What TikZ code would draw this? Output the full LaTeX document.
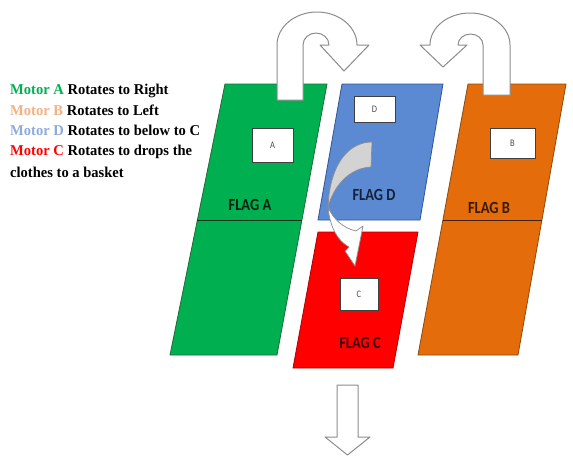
\documentclass[tikz,border=0pt]{standalone}
\usepackage{fontspec}
\usetikzlibrary{calc}
\newfontfamily\legendfont[FakeStretch=0.97]{Liberation Serif}
\newfontfamily\flagfont[FakeStretch=0.85]{Carlito}
\definecolor{gfill}{HTML}{00B050}
\definecolor{gline}{HTML}{1E6B38}
\definecolor{bfill}{HTML}{5B8AD2}
\definecolor{bline}{HTML}{2F5597}
\definecolor{ofill}{HTML}{E46C0A}
\definecolor{oline}{HTML}{8A4A10}
\definecolor{rfill}{HTML}{FF0000}
\definecolor{rline}{HTML}{B00000}
\definecolor{motorA}{HTML}{00B050}
\definecolor{motorB}{HTML}{F4B183}
\definecolor{motorD}{HTML}{8FAADC}
\definecolor{motorC}{HTML}{FF0000}
\definecolor{arrowline}{HTML}{8C8C8C}
\definecolor{twistgray}{HTML}{D3D3D3}
\tikzset{
  flagshape/.style={line width=0.8pt},
  divider/.style={line width=1pt},
  labelbox/.style={draw=black!75, fill=white, line width=0.8pt, inner sep=0pt,
     font=\flagfont\fontsize{10}{11}\selectfont, text=black!70},
  flaglabel/.style={font=\flagfont\bfseries\fontsize{17}{18}\selectfont},
  legend/.style={anchor=base west, inner sep=0pt,
     font=\legendfont\bfseries\fontsize{15}{17}\selectfont},
  blockarrow/.style={draw=arrowline, fill=white, line width=1pt, line join=round},
}
\begin{document}
\begin{tikzpicture}[x=1pt,y=-1pt]
\useasboundingbox (0,0) rectangle (573,459);
\fill[white] (0,0) rectangle (573,459);

% corners of flags
\coordinate (gA) at (225,84); \coordinate (gB) at (327,84);
\coordinate (gC) at (277,355); \coordinate (gD) at (170,355);
\coordinate (dA) at (342,84); \coordinate (dB) at (443,84);
\coordinate (dC) at (420,220); \coordinate (dD) at (318,220);
\coordinate (oA) at (468,84); \coordinate (oB) at (566,84);
\coordinate (oC) at (518,355); \coordinate (oD) at (418,355);
\coordinate (cA) at (318,232); \coordinate (cB) at (418,232);
\coordinate (cC) at (393,368); \coordinate (cD) at (293,368);

% flags
\draw[flagshape, fill=gfill, draw=gline] (gA) -- (gB) -- (gC) -- (gD) -- cycle;
\draw[flagshape, fill=bfill, draw=bline] (dA) -- (dB) -- (dC) -- (dD) -- cycle;
\draw[flagshape, fill=ofill, draw=oline] (oA) -- (oB) -- (oC) -- (oD) -- cycle;
\draw[flagshape, fill=rfill, draw=rline] (cA) -- (cB) -- (cC) -- (cD) -- cycle;

% dividers
\draw[divider, draw=black!70!gfill] ($(gA)!0.502!(gD)$) -- ($(gB)!0.502!(gC)$);
\draw[divider, draw=black!70!ofill] ($(oA)!0.502!(oD)$) -- ($(oB)!0.502!(oC)$);

% label boxes
\node[labelbox, minimum width=41, minimum height=34] (boxA) at (272.5,145) {A};
\node[labelbox, minimum width=45, minimum height=30] (boxB) at (512.5,143) {B};
\node[labelbox, minimum width=41, minimum height=26] (boxD) at (374.5,109) {D};
\node[labelbox, minimum width=38, minimum height=32] (boxC) at (359,294) {C};

% flag labels
\node[flaglabel, text=black!80!gfill] (flagA) at (250,205) {FLAG A};
\node[flaglabel, text=black!60!bline] (flagD) at (374,195) {FLAG D};
\node[flaglabel, text=black!75!ofill] (flagB) at (489,208) {FLAG B};
\node[flaglabel, text=black!75!rfill] (flagC) at (360,343) {FLAG C};

% U-turn arrow on flag A
\draw[blockarrow] (277,100) -- (277,45)
   arc[start angle=180, end angle=360, x radius=40, y radius=33]
   -- (369,45) -- (344,71) -- (320,45) -- (329,45)
   arc[start angle=0, end angle=-180, x radius=13, y radius=12]
   -- (303,100) -- cycle;

% U-turn arrow on flag B
\draw[blockarrow] (510,95) -- (510,45)
   arc[start angle=0, end angle=-180, x radius=40, y radius=32]
   -- (420,45) -- (443,67) -- (467,45) -- (458,45)
   arc[start angle=180, end angle=360, x radius=12.5, y radius=11]
   -- (483,95) -- cycle;

% curved arrow from D to C
\draw[draw=arrowline, fill=twistgray, line width=0.7pt, line join=round]
   (372,142) .. controls (350,142) and (330,162) .. (328,207)
   .. controls (333,188) and (348,168) .. (371,167) -- cycle;
\draw[draw=arrowline, fill=white, line width=0.7pt, line join=round]
   (328,207) .. controls (330,228) and (338,241) .. (349,247)
   -- (345,251) -- (355,266) -- (363,226) -- (356,231)
   .. controls (343,228) and (333,219) .. (328,207) -- cycle;

% down arrow
\draw[blockarrow] (337,385) -- (358,385) -- (358,437) -- (370,437)
   -- (347.5,455) -- (325,437) -- (337,437) -- cycle;

% legend
\node[legend] (l1) at (10,94) {\textcolor{motorA}{Motor A} Rotates to Right};
\node[legend] (l2) at (10,115) {\textcolor{motorB}{Motor B} Rotates to Left};
\node[legend] (l3) at (10,135) {\textcolor{motorD}{Motor D} Rotates to below to C};
\node[legend] (l4) at (10,155) {\textcolor{motorC}{Motor C} Rotates to drops the};
\node[legend] (l5) at (10,177) {clothes to a basket};
\end{tikzpicture}
\end{document}
